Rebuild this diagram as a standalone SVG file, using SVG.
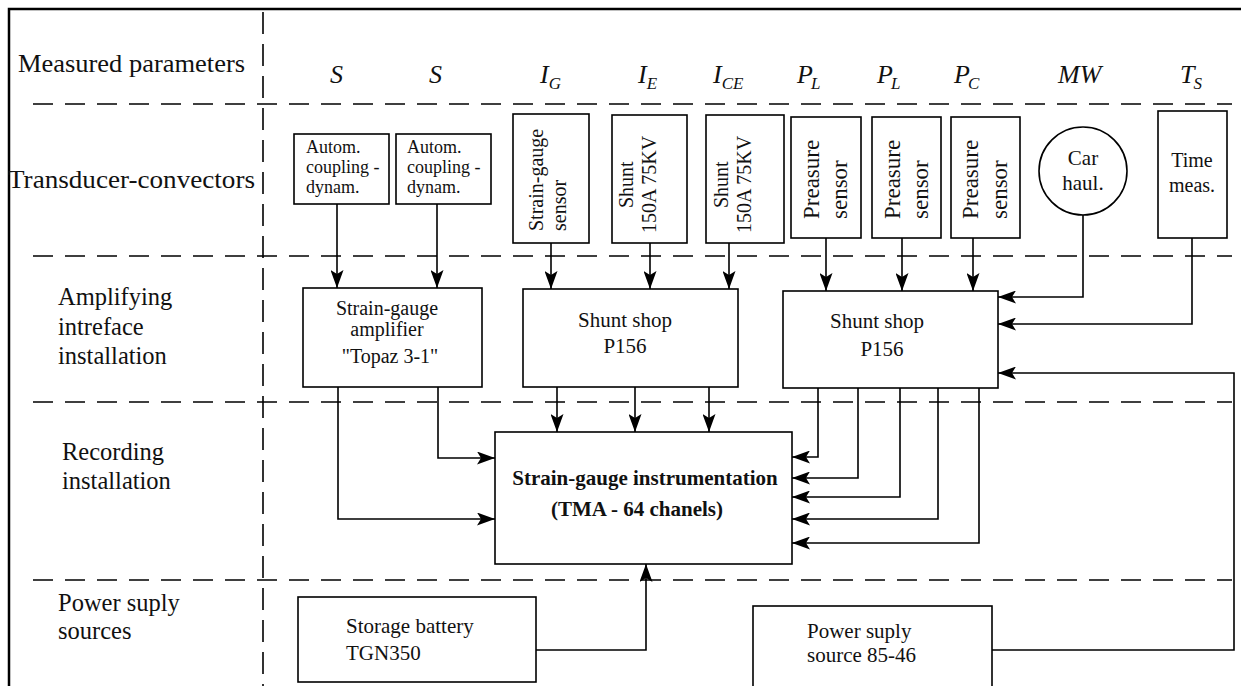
<svg xmlns="http://www.w3.org/2000/svg" width="1241" height="686" viewBox="0 0 1241 686">
<defs>
<marker id="ah" markerUnits="userSpaceOnUse" markerWidth="18" markerHeight="13" refX="18" refY="6.5" orient="auto">
<path d="M0,0 L18,6.5 L0,13 L4,6.5 z" fill="#000"/>
</marker>
<style>
text{font-family:"Liberation Serif","Times New Roman",serif;fill:#111}
.lbl{font-size:24.5px}
.par{font-size:26px;font-style:italic}
.sub{font-size:17px;font-style:italic}
.bx{fill:#fff;stroke:#000;stroke-width:1.6}
.t18{font-size:18px}
.t20{font-size:20px}
.t21{font-size:21px}
.t23{font-size:23px}
.bold{font-size:21px;font-weight:bold}
.dash{stroke:#000;stroke-width:1.6;stroke-dasharray:20 12;fill:none}
.vdash{stroke:#000;stroke-width:1.6;stroke-dasharray:22 10;fill:none}
.con path{fill:none;stroke:#000;stroke-width:1.6}
.arr{marker-end:url(#ah)}
</style>
</defs>
<rect width="1241" height="686" fill="#fff"/>
<g id="frame">
<path d="M9,686 V9 H1241" fill="none" stroke="#000" stroke-width="2.5"/>
<path class="vdash" d="M263,12 V686"/>
<path class="dash" d="M33,104 H1232"/>
<path class="dash" d="M33,256 H1232"/>
<path class="dash" d="M33,402 H1232"/>
<path class="dash" d="M33,580 H1232"/>
</g>
<g id="row-labels">
<text class="lbl" x="18" y="72" textLength="227" lengthAdjust="spacingAndGlyphs">Measured parameters</text>
<text class="lbl" x="8" y="188" textLength="247" lengthAdjust="spacingAndGlyphs">Transducer-convectors</text>
<text class="lbl" x="58" y="305">Amplifying</text>
<text class="lbl" x="58" y="335">intreface</text>
<text class="lbl" x="58" y="364">installation</text>
<text class="lbl" x="62" y="460">Recording</text>
<text class="lbl" x="62" y="489">installation</text>
<text class="lbl" x="58" y="611">Power suply</text>
<text class="lbl" x="58" y="639">sources</text>
</g>
<g id="parameters">
<text class="par" x="330" y="83">S</text>
<text class="par" x="429" y="83">S</text>
<text class="par" x="540" y="83">I<tspan class="sub" dy="6">G</tspan></text>
<text class="par" x="638" y="83">I<tspan class="sub" dy="6">E</tspan></text>
<text class="par" x="713" y="83">I<tspan class="sub" dy="6">CE</tspan></text>
<text class="par" x="797" y="83">P<tspan class="sub" dy="6" dx="-2">L</tspan></text>
<text class="par" x="877" y="83">P<tspan class="sub" dy="6" dx="-2">L</tspan></text>
<text class="par" x="954" y="83">P<tspan class="sub" dy="6" dx="-2">C</tspan></text>
<text class="par" x="1058" y="83">MW</text>
<text class="par" x="1180" y="83">T<tspan class="sub" dy="6" dx="-1">S</tspan></text>
</g>
<g id="n-autom1">
<rect class="bx" x="294" y="134" width="95" height="70"/>
<text class="t18" x="306" y="153">Autom.</text>
<text class="t18" x="306" y="173">coupling -</text>
<text class="t18" x="306" y="193">dynam.</text>
</g>
<g id="n-autom2">
<rect class="bx" x="396" y="134" width="95" height="70"/>
<text class="t18" x="407" y="153">Autom.</text>
<text class="t18" x="407" y="173">coupling -</text>
<text class="t18" x="407" y="193">dynam.</text>
</g>
<g id="n-sgsensor">
<rect class="bx" x="513" y="114" width="76" height="129"/>
<text class="t20" transform="translate(543,231) rotate(-90)">Strain-gauge</text>
<text class="t20" transform="translate(566,231) rotate(-90)">sensor</text>
</g>
<g id="n-shunt1">
<rect class="bx" x="612" y="115" width="75" height="128"/>
<text class="t20" transform="translate(633,208) rotate(-90)">Shunt</text>
<text class="t20" transform="translate(656,233) rotate(-90)">150A 75KV</text>
</g>
<g id="n-shunt2">
<rect class="bx" x="706" y="115" width="78" height="128"/>
<text class="t20" transform="translate(728,208) rotate(-90)">Shunt</text>
<text class="t20" transform="translate(751,233) rotate(-90)">150A 75KV</text>
</g>
<g id="n-pres1">
<rect class="bx" x="791" y="117" width="70" height="121"/>
<text class="t23" transform="translate(819,219) rotate(-90)">Preasure</text>
<text class="t23" transform="translate(847,219) rotate(-90)">sensor</text>
</g>
<g id="n-pres2">
<rect class="bx" x="872" y="117" width="69" height="121"/>
<text class="t23" transform="translate(900,219) rotate(-90)">Preasure</text>
<text class="t23" transform="translate(928,219) rotate(-90)">sensor</text>
</g>
<g id="n-pres3">
<rect class="bx" x="951" y="117" width="69" height="121"/>
<text class="t23" transform="translate(978,219) rotate(-90)">Preasure</text>
<text class="t23" transform="translate(1007,219) rotate(-90)">sensor</text>
</g>
<g id="n-carhaul">
<circle class="bx" cx="1083" cy="171" r="44"/>
<text class="t21" x="1083" y="165" text-anchor="middle">Car</text>
<text class="t21" x="1083" y="190" text-anchor="middle">haul.</text>
</g>
<g id="n-time">
<rect class="bx" x="1158" y="111" width="69" height="127"/>
<text class="t20" x="1192" y="167" text-anchor="middle">Time</text>
<text class="t20" x="1192" y="192" text-anchor="middle">meas.</text>
</g>
<g id="n-amp">
<rect class="bx" x="303" y="288" width="179" height="99"/>
<text class="t20" x="387" y="315" text-anchor="middle">Strain-gauge</text>
<text class="t20" x="387" y="336" text-anchor="middle">amplifier</text>
<text class="t20" x="390" y="363" text-anchor="middle">"Topaz 3-1"</text>
</g>
<g id="n-shop1">
<rect class="bx" x="523" y="289" width="215" height="98"/>
<text class="t21" x="625" y="327" text-anchor="middle">Shunt shop</text>
<text class="t21" x="625" y="353" text-anchor="middle">P156</text>
</g>
<g id="n-shop2">
<rect class="bx" x="783" y="291" width="215" height="97"/>
<text class="t21" x="877" y="328" text-anchor="middle">Shunt shop</text>
<text class="t21" x="882" y="356" text-anchor="middle">P156</text>
</g>
<g id="n-tma">
<rect class="bx" x="495" y="432" width="297" height="132"/>
<text class="bold" x="645" y="485" text-anchor="middle">Strain-gauge instrumentation</text>
<text class="bold" x="637" y="516" text-anchor="middle">(TMA - 64 chanels)</text>
</g>
<g id="n-battery">
<rect class="bx" x="298" y="597" width="238" height="85"/>
<text class="t21" x="346" y="633">Storage battery</text>
<text class="t21" x="346" y="660">TGN350</text>
</g>
<g id="n-psu">
<rect class="bx" x="753" y="606" width="239" height="90"/>
<text class="t21" x="807" y="638">Power suply</text>
<text class="t21" x="807" y="662">source 85-46</text>
</g>
<g id="connectors" class="con">
<path class="arr" d="M337,204 V288"/>
<path class="arr" d="M437,204 V288"/>
<path class="arr" d="M551,243 V289"/>
<path class="arr" d="M650,243 V289"/>
<path class="arr" d="M729,243 V289"/>
<path class="arr" d="M826,238 V291"/>
<path class="arr" d="M902,238 V291"/>
<path class="arr" d="M973,238 V291"/>
<path class="arr" d="M1083,215 V297 H998"/>
<path class="arr" d="M1192,238 V324 H998"/>
<path class="arr" d="M338,387 V519 H495"/>
<path class="arr" d="M438,387 V458 H495"/>
<path class="arr" d="M557,387 V432"/>
<path class="arr" d="M635,387 V432"/>
<path class="arr" d="M709,387 V432"/>
<path class="arr" d="M818,388 V457 H792"/>
<path class="arr" d="M858,388 V478 H792"/>
<path class="arr" d="M900,388 V497 H792"/>
<path class="arr" d="M938,388 V519 H792"/>
<path class="arr" d="M979,388 V543 H792"/>
<path class="arr" d="M536,650 H646 V564"/>
<path class="arr" d="M992,650 H1234 V373 H998"/>
</g>
</svg>
